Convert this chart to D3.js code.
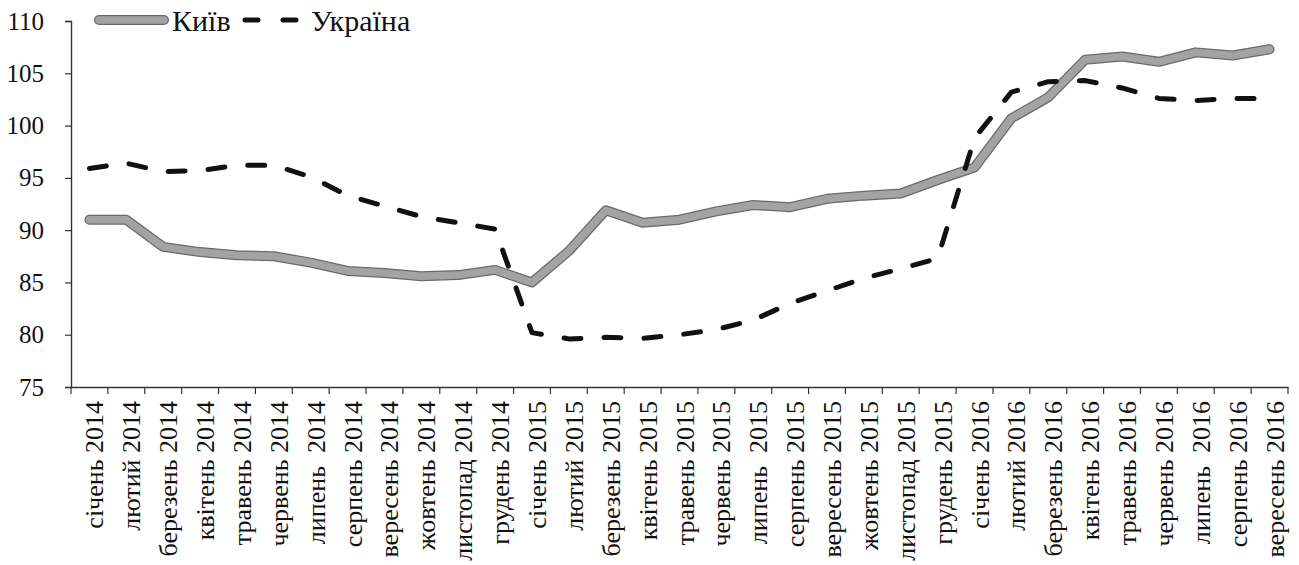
<!DOCTYPE html>
<html>
<head>
<meta charset="utf-8">
<script src="https://cdn.jsdelivr.net/npm/d3@7"></script>
<style>
  html, body { margin: 0; padding: 0; background: #fff; }
  svg { display: block; }
</style>
</head>
<body>
<svg id="chart" width="1299" height="565"></svg>
<script>
const categories = [
  "січень 2014","лютий 2014","березень 2014","квітень 2014","травень 2014","червень 2014",
  "липень  2014","серпень 2014","вересень 2014","жовтень 2014","листопад 2014","грудень 2014",
  "січень 2015","лютий 2015","березень 2015","квітень 2015","травень 2015","червень 2015",
  "липень  2015","серпень 2015","вересень 2015","жовтень 2015","листопад 2015","грудень 2015",
  "січень 2016","лютий 2016","березень 2016","квітень 2016","травень 2016","червень 2016",
  "липень  2016","серпень 2016","вересень 2016"
];
const kyiv = [91.0, 91.0, 88.4, 87.9, 87.6, 87.5, 86.9, 86.1, 85.9, 85.6, 85.7, 86.2,
              85.0, 88.0, 91.9, 90.7, 91.0, 91.8, 92.4, 92.2, 93.0, 93.3, 93.5, 94.8,
              96.0, 100.7, 102.7, 106.3, 106.6, 106.1, 107.0, 106.7, 107.3];
const ukraine = [95.9, 96.4, 95.6, 95.7, 96.2, 96.2, 95.1, 93.3, 92.3, 91.3, 90.7, 90.1,
                 80.2, 79.6, 79.75, 79.65, 80.0, 80.5, 81.4, 83.0, 84.2, 85.4, 86.3, 87.3,
                 98.8, 103.2, 104.2, 104.3, 103.6, 102.6, 102.4, 102.6, 102.6];
const yTicks = [75, 80, 85, 90, 95, 100, 105, 110];
const seriesNames = ["Київ", "Україна"];

const FONT = "'Times New Roman', 'Liberation Serif', 'DejaVu Serif', serif";
const svg = d3.select("#chart").attr("font-family", FONT);
const mLeft = 71, mRight = 1288, mTop = 21, mBottom = 387;

const x = d3.scaleBand().domain(categories).range([mLeft, mRight]).paddingInner(0).paddingOuter(0);
const y = d3.scaleLinear().domain([75, 110]).range([mBottom, mTop]);
const cx = d => x(d) + x.bandwidth() / 2;

// Y axis
const yAxis = svg.append("g").attr("transform", `translate(${mLeft},0)`)
  .call(d3.axisLeft(y).tickValues(yTicks).tickSize(6).tickPadding(21));
yAxis.attr("font-family", null).attr("font-size", null);
yAxis.select(".domain").attr("stroke", "#333").attr("stroke-width", 1.4);
yAxis.selectAll(".tick line").attr("stroke", "#333").attr("stroke-width", 1.2);
yAxis.selectAll(".tick text").style("font-family", FONT).style("font-size", "25px").attr("fill", "#111");

// X axis
const xAxis = svg.append("g").attr("transform", `translate(0,${mBottom})`)
  .call(d3.axisBottom(x).tickSize(0).tickFormat(""));
xAxis.select(".domain").attr("stroke", "#333").attr("stroke-width", 1.4);
xAxis.selectAll(".tick").remove();
const boundaries = categories.map(c => x(c)).concat([x(categories[categories.length - 1]) + x.bandwidth()]);
svg.append("g").selectAll("line").data(boundaries).join("line")
  .attr("x1", d => d).attr("x2", d => d)
  .attr("y1", mBottom).attr("y2", mBottom + 7)
  .attr("stroke", "#333").attr("stroke-width", 1.2);

// X labels rotated
svg.append("g").selectAll("text").data(categories).join("text")
  .attr("transform", d => `translate(${cx(d) + 14},${mBottom + 14}) rotate(-90)`)
  .attr("text-anchor", "end")
  .style("font-family", FONT).style("font-size", "26px")
  .style("white-space", "pre")
  .attr("fill", "#111")
  .text(d => d);

// Lines
const line = d3.line().x((d, i) => cx(categories[i])).y(d => y(d));

svg.append("path").datum(kyiv).attr("d", line)
  .attr("fill", "none").attr("stroke", "#6a6a6a").attr("stroke-width", 10)
  .attr("stroke-linejoin", "round").attr("stroke-linecap", "round");
svg.append("path").datum(kyiv).attr("d", line)
  .attr("fill", "none").attr("stroke", "#a3a3a3").attr("stroke-width", 7.5)
  .attr("stroke-linejoin", "round").attr("stroke-linecap", "round");

svg.append("path").datum(ukraine).attr("d", line)
  .attr("fill", "none").attr("stroke", "#111").attr("stroke-width", 5)
  .attr("stroke-dasharray", "17,23")
  .attr("stroke-linejoin", "round").attr("stroke-linecap", "round");

// Legend
const lg = svg.append("g");
lg.append("line").attr("x1", 99).attr("x2", 164).attr("y1", 20).attr("y2", 20)
  .attr("stroke", "#6a6a6a").attr("stroke-width", 10).attr("stroke-linecap", "round");
lg.append("line").attr("x1", 99).attr("x2", 164).attr("y1", 20).attr("y2", 20)
  .attr("stroke", "#a3a3a3").attr("stroke-width", 7.5).attr("stroke-linecap", "round");
lg.append("text").attr("x", 172).attr("y", 31).style("font-family", FONT).style("font-size", "30px").attr("fill", "#111").text(seriesNames[0]);
lg.append("line").attr("x1", 245).attr("x2", 296).attr("y1", 20).attr("y2", 20)
  .attr("stroke", "#111").attr("stroke-width", 5).attr("stroke-linecap", "round")
  .attr("stroke-dasharray", "13,25");
lg.append("text").attr("x", 311).attr("y", 31).style("font-family", FONT).style("font-size", "30px").attr("fill", "#111").text(seriesNames[1]);
</script>
</body>
</html>
